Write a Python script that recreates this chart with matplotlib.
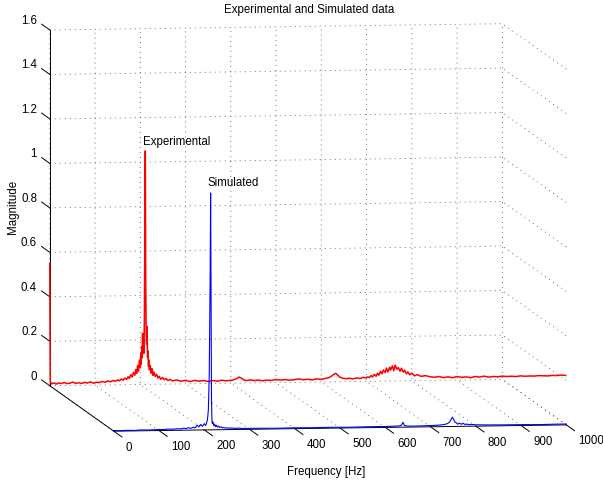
import matplotlib
matplotlib.use("Agg")
import matplotlib.pyplot as plt

plt.rcParams['font.family'] = ['Liberation Sans', 'DejaVu Sans']
plt.rcParams['font.size'] = 8.3
plt.rcParams['grid.linestyle'] = (0, (1, 5))
plt.rcParams['grid.color'] = '0.25'
plt.rcParams['grid.linewidth'] = 0.6

# ---- data: (frequency Hz, magnitude) ----
title = "Experimental and Simulated data"
xlabel = "Frequency [Hz]"
zlabel = "Magnitude"
x_ticks = [0, 100, 200, 300, 400, 500, 600, 700, 800, 900, 1000]
x_ticklabels = ["0", "100", "200", "300", "400", "500", "600", "700", "800",
                "900", "1000"]
z_ticks = [0, 0.2, 0.4, 0.6, 0.8, 1.0, 1.2, 1.4, 1.6]
z_ticklabels = ["0", "0.2", "0.4", "0.6", "0.8", "1", "1.2", "1.4", "1.6"]

exp_low = [(0, 0.55), (1, 0.02), (4, 0.008), (9, 0.013), (14, 0.007), (20, 0.012),
           (26, 0.009), (32, 0.014), (38, 0.008), (45, 0.011), (51, 0.015),
           (57, 0.009), (64, 0.012), (70, 0.008), (77, 0.013), (83, 0.010),
           (90, 0.015), (96, 0.009), (103, 0.013), (109, 0.011), (116, 0.016),
           (122, 0.012), (128, 0.018), (134, 0.014), (140, 0.020), (145, 0.016),
           (150, 0.022)]
exp_peak = [(154, 0.018), (158, 0.026), (162, 0.020), (166, 0.030), (170, 0.024),
            (173, 0.036), (176, 0.028), (179, 0.045), (182, 0.034), (185, 0.055),
            (188, 0.042), (190, 0.068), (192, 0.050), (194, 0.085), (196, 0.060),
            (198, 0.11), (200, 0.075), (201, 0.14), (202, 0.09), (203, 0.17),
            (204, 0.12), (205, 0.23), (206, 0.16), (207, 0.20), (208, 0.14),
            (209, 0.30), (210, 0.68), (211, 1.05), (212, 0.45), (213, 0.22),
            (214, 0.18), (215, 0.26), (216, 0.12), (217, 0.15), (218, 0.08),
            (219, 0.11), (220, 0.065), (222, 0.085), (224, 0.05), (226, 0.07),
            (228, 0.04), (230, 0.055), (233, 0.035), (236, 0.045), (239, 0.028),
            (242, 0.036), (245, 0.022), (249, 0.03), (253, 0.02), (257, 0.025),
            (261, 0.016), (266, 0.021), (271, 0.014)]
exp_high = [(280, 0.018), (290, 0.012), (300, 0.016), (310, 0.010), (320, 0.015),
            (330, 0.011), (340, 0.014), (350, 0.009), (360, 0.013), (370, 0.010),
            (380, 0.014), (390, 0.011), (400, 0.013), (408, 0.016), (414, 0.022),
            (418, 0.027), (422, 0.024), (426, 0.018), (430, 0.013), (436, 0.011),
            (444, 0.014), (452, 0.010), (460, 0.013), (470, 0.009), (480, 0.012),
            (490, 0.010), (500, 0.014), (510, 0.011), (520, 0.013), (530, 0.010),
            (540, 0.012), (550, 0.015), (560, 0.011), (570, 0.013), (580, 0.010),
            (590, 0.014), (600, 0.012), (610, 0.016), (618, 0.020), (624, 0.028),
            (628, 0.034), (632, 0.038), (636, 0.030), (640, 0.022), (646, 0.016),
            (654, 0.013), (662, 0.015), (670, 0.012), (678, 0.016), (686, 0.013),
            (692, 0.018), (698, 0.015), (702, 0.020), (706, 0.017), (710, 0.026),
            (713, 0.019), (717, 0.031), (721, 0.022), (724, 0.036), (727, 0.027),
            (731, 0.044), (734, 0.033), (737, 0.050), (741, 0.038), (744, 0.058),
            (747, 0.041), (751, 0.062), (753, 0.049), (757, 0.068), (760, 0.046),
            (763, 0.071), (767, 0.052), (770, 0.060), (774, 0.043), (777, 0.057),
            (781, 0.039), (784, 0.048), (788, 0.031), (791, 0.040), (795, 0.027),
            (800, 0.034), (806, 0.022), (812, 0.027), (820, 0.019),
            (830, 0.022), (840, 0.017), (850, 0.014), (860, 0.017), (870, 0.012),
            (880, 0.015), (890, 0.011), (900, 0.016), (910, 0.012), (920, 0.014),
            (930, 0.010), (940, 0.015), (950, 0.012), (960, 0.016), (970, 0.011),
            (980, 0.014), (990, 0.012), (1000, 0.015), (1010, 0.013), (1020, 0.014),
            (1030, 0.012), (1040, 0.015), (1050, 0.013), (1060, 0.014), (1070, 0.013),
            (1080, 0.015), (1090, 0.014), (1100, 0.013), (1110, 0.015), (1120, 0.014),
            (1130, 0.016), (1140, 0.014)]

sim_low = [(0, 0.003), (15, 0.002), (30, 0.003), (45, 0.002), (60, 0.004),
           (75, 0.003), (90, 0.004), (100, 0.005), (110, 0.004), (120, 0.006),
           (130, 0.005), (140, 0.007), (148, 0.006), (155, 0.009), (160, 0.007),
           (165, 0.011), (170, 0.008), (175, 0.012), (180, 0.010), (184, 0.022),
           (188, 0.014), (192, 0.025), (196, 0.016), (200, 0.028), (203, 0.02),
           (205, 0.032), (207, 0.045), (209, 0.09), (211, 0.25), (213, 0.70),
           (214, 1.065), (215, 0.60), (216, 0.12), (217, 0.04), (218, 0.028),
           (219, 0.035), (221, 0.018), (223, 0.025), (225, 0.014), (227, 0.02),
           (229, 0.012), (231, 0.016), (234, 0.01), (237, 0.013), (240, 0.008),
           (243, 0.01), (246, 0.007), (250, 0.008), (255, 0.006), (260, 0.007),
           (268, 0.005), (276, 0.006), (285, 0.004), (300, 0.004)]
sim_high = [(320, 0.004), (360, 0.003), (400, 0.004), (440, 0.003), (480, 0.004),
            (520, 0.003), (560, 0.004), (600, 0.004), (620, 0.005), (632, 0.006),
            (636, 0.01), (639, 0.022), (642, 0.008), (646, 0.005), (660, 0.004),
            (690, 0.005), (710, 0.006), (725, 0.008), (732, 0.01), (738, 0.014),
            (742, 0.02), (745, 0.03), (748, 0.042), (751, 0.032), (754, 0.02),
            (757, 0.016), (760, 0.01), (764, 0.015), (768, 0.009), (772, 0.014),
            (776, 0.008), (780, 0.01), (785, 0.007), (792, 0.008), (800, 0.006),
            (820, 0.005), (860, 0.004), (900, 0.004), (940, 0.003), (980, 0.004),
            (1000, 0.004)]

exp_depth = 1.0   # back row
sim_depth = 0.0   # front row

exp_pts = exp_low + exp_peak + exp_high
sim_pts = sim_low + sim_high
exp_f = [p[0] for p in exp_pts]
exp_m = [p[1] for p in exp_pts]
sim_f = [p[0] for p in sim_pts]
sim_m = [p[1] for p in sim_pts]

# ---- figure ----
W, H = 603, 483
fig = plt.figure(figsize=(W / 100, H / 100), dpi=100)
S = 560.0
cx, cy = 300.5, 235.0
ax = fig.add_axes([(cx - S / 2) / W, (H - cy - S / 2) / H, S / W, S / H],
                  projection='3d', proj_type='ortho')
ax.set_box_aspect((455, 460, 356), zoom=1.8 * 400 / S)
ax.view_init(elev=5.7, azim=-97.96)

ax.plot(exp_f, [exp_depth] * len(exp_f), exp_m, color='red', lw=1.1)
ax.plot(sim_f, [sim_depth] * len(sim_f), sim_m, color='blue', lw=0.8)

ax.text(205, exp_depth, 1.09, 'Experimental', va='center', ha='left')
ax.text(206, sim_depth, 1.11, 'Simulated', va='center', ha='left')

ax.set_xlim(0, 1000)
ax.set_ylim(0, 1)
ax.set_zlim(0, 1.6)
ax.set_xticks(x_ticks)
ax.set_yticks([])
ax.set_zticks(z_ticks)

for a in (ax.xaxis, ax.yaxis, ax.zaxis):
    a.set_pane_color((1, 1, 1, 0))
    a.pane.set_edgecolor('none')
    a.line.set_color('black')
    a.line.set_linewidth(0.7)
    a._axinfo['tick']['linewidth'] = {True: 0.7, False: 0.5}
    a.offsetText.set_visible(False)
    a.label.set_visible(False)
    a.set_tick_params(labelbottom=False, labeltop=False,
                      labelleft=False, labelright=False)

# MATLAB-like ticks: all tick marks run along the depth (y) direction, outward
ax.zaxis._get_tickdir = lambda position: 1
ax.xaxis._axinfo['tick']['inward_factor'] = 1.6
ax.xaxis._axinfo['tick']['outward_factor'] = 0.0
ax.zaxis._axinfo['tick']['inward_factor'] = 0.0
ax.zaxis._axinfo['tick']['outward_factor'] = 1.6

# tick labels placed at the end of the tick marks (MATLAB style)
for xv, lab in zip(x_ticks, x_ticklabels):
    ax.text(xv, -0.19, -0.035, lab, ha='left', va='center')
for zv, lab in zip(z_ticks, z_ticklabels):
    ax.text(0, 1.2, zv, lab, ha='right', va='center')

fig.text(326 / W, 1 - 472 / H, xlabel, ha='center', va='center')
fig.text(13 / W, 1 - 207 / H, zlabel, ha='center', va='center', rotation=90)
fig.text(309 / W, 1 - 10.5 / H, title, ha='center', va='center')

fig.savefig("out.png", dpi=100)
